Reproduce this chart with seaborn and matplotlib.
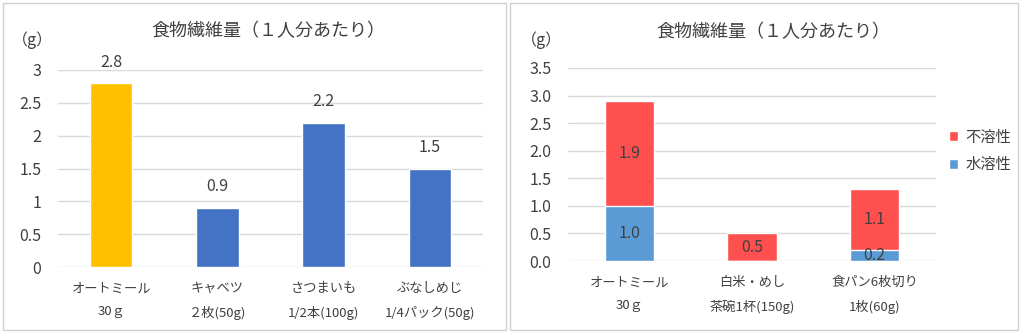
import matplotlib
matplotlib.use("Agg")
import matplotlib.pyplot as plt
import seaborn as sns
import pandas as pd
from matplotlib.patches import Rectangle, Patch

# ---- data ----
left_title = "食物繊維量（１人分あたり）"
left_cats = ["オートミール\n30ｇ", "キャベツ\n２枚(50g)", "さつまいも\n1/2本(100g)", "ぶなしめじ\n1/4パック(50g)"]
left_vals = [2.8, 0.9, 2.2, 1.5]
left_colors = ["#FFC000", "#4472C4", "#4472C4", "#4472C4"]
left_yticks = [0, 0.5, 1, 1.5, 2, 2.5, 3]

right_title = "食物繊維量（１人分あたり）"
right_cats = ["オートミール\n30ｇ", "白米・めし\n茶碗1杯(150g)", "食パン6枚切り\n1枚(60g)"]
soluble = [1.0, 0.0, 0.2]
insoluble = [1.9, 0.5, 1.1]
right_yticks = [0.0, 0.5, 1.0, 1.5, 2.0, 2.5, 3.0, 3.5]
unit_label = "（g）"
legend_labels = ["不溶性", "水溶性"]
c_insol = "#FF5050"
c_sol = "#5B9BD5"

sns.set_theme(style="white")
plt.rcParams["font.family"] = ["Noto Sans CJK JP", "DejaVu Sans"]
TXT = "#404040"
GRID = "#D9D9D9"
NUM = 11.5

W, H = 1022, 332
fig = plt.figure(figsize=(W / 100, H / 100), dpi=100)
fig.patch.set_facecolor("white")

def fx(px): return px / W
def fy(py): return 1 - py / H

# panel borders
for x0, x1 in [(3, 506), (510, 1018)]:
    fig.patches.append(Rectangle((fx(x0), fy(330)), fx(x1 - x0), (327) / H,
                                 transform=fig.transFigure, fill=False,
                                 edgecolor="#D0D0D0", lw=1.0))

def style_ax(ax, yticks, fmt):
    ax.set_yticks(yticks)
    ax.set_yticklabels([fmt(v) for v in yticks], fontsize=NUM, color=TXT)
    ax.set_ylim(yticks[0], yticks[-1])
    ax.yaxis.grid(True, color=GRID, lw=1.0)
    ax.set_axisbelow(True)
    for s in ax.spines.values():
        s.set_visible(False)
    ax.tick_params(axis="both", length=0)
    ax.tick_params(axis="y", pad=12)
    ax.tick_params(axis="x", pad=11)
    for lab in ax.get_xticklabels():
        lab.set_fontsize(9.5)
        lab.set_color(TXT)
        lab.set_linespacing(2.0)
    ax.set_xlabel("")
    ax.set_ylabel("")

# ---- left chart ----
axL = fig.add_axes([fx(58), fy(267), fx(483 - 58), (267 - 70) / H])
dfL = pd.DataFrame({"cat": left_cats, "val": left_vals})
sns.barplot(data=dfL, x="cat", y="val", hue="cat", palette=left_colors,
            legend=False, width=0.4, ax=axL, saturation=1)
style_ax(axL, left_yticks, lambda v: f"{v:g}")
for c in axL.containers:
    axL.bar_label(c, fmt="%.1f", padding=9, fontsize=NUM, color=TXT)
axL.set_xlim(-0.5, len(left_cats) - 0.5)
fig.text(fx(268), fy(31), left_title, ha="center", va="center", fontsize=13, color=TXT)
fig.text(fx(32), fy(40), unit_label, ha="center", va="center", fontsize=11.5, color=TXT)

# ---- right chart ----
axR = fig.add_axes([fx(568), fy(261), fx(936 - 568), (261 - 68) / H])
totals = [s + i for s, i in zip(soluble, insoluble)]
dfR = pd.DataFrame({"cat": right_cats, "sol": soluble, "insol": insoluble, "tot": totals})
sns.barplot(data=dfR, x="cat", y="tot", color=c_insol, width=0.4, ax=axR, saturation=1)
sns.barplot(data=dfR, x="cat", y="sol", color=c_sol, width=0.4, ax=axR, saturation=1)
style_ax(axR, right_yticks, lambda v: f"{v:.1f}")
axR.set_xlim(-0.5, len(right_cats) - 0.5)
for i, (s, ins) in enumerate(zip(soluble, insoluble)):
    if s > 0:
        axR.text(i, s / 2, f"{s:.1f}", ha="center", va="center", fontsize=NUM, color=TXT)
    if ins > 0:
        axR.text(i, s + ins / 2, f"{ins:.1f}", ha="center", va="center", fontsize=NUM, color=TXT)
fig.text(fx(773), fy(32), right_title, ha="center", va="center", fontsize=13, color=TXT)
fig.text(fx(541), fy(40), unit_label, ha="center", va="center", fontsize=11.5, color=TXT)

handles = [Patch(facecolor=c_insol, label=legend_labels[0]),
           Patch(facecolor=c_sol, label=legend_labels[1])]
fig.legend(handles=handles, loc="center left", bbox_to_anchor=(fx(935), fy(151)),
           frameon=False, fontsize=11, handlelength=0.6, handleheight=0.6,
           handletextpad=0.5, labelspacing=0.7, labelcolor=TXT)

fig.savefig("out.png", dpi=100)
